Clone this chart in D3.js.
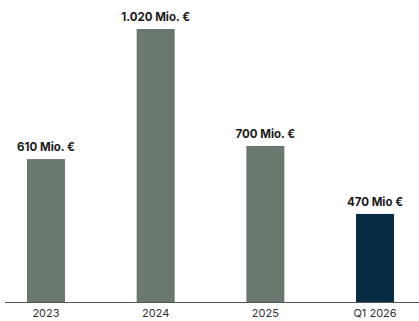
<!DOCTYPE html>
<html>
<head>
<meta charset="utf-8">
<script src="https://cdn.jsdelivr.net/npm/d3@7"></script>
<style>
  html, body { margin: 0; padding: 0; background: #fff; }
  svg { display: block; }
</style>
</head>
<body>
<svg id="chart" width="419" height="321"></svg>
<script>
// Data
const categories = ["2023", "2024", "2025", "Q1 2026"];
// bar heights as drawn in the picture (in the same units as the largest label)
const barValues = [534, 1020, 583, 329];
const valueLabels = ["610 Mio. €", "1.020 Mio. €", "700 Mio. €", "470 Mio €"];
const barColors = ["#6b786d", "#6b786d", "#6b786d", "#062b42"];

const W = 419, H = 321;
const baseline = 302;
const svg = d3.select("#chart");

const x = d3.scaleBand()
  .domain(categories)
  .range([1, 420])
  .paddingInner(0.654)
  .paddingOuter(0.237);

const y = d3.scaleLinear()
  .domain([0, 1020])
  .range([baseline, 29]);

const bw = 38;

svg.selectAll("rect.bar")
  .data(categories)
  .enter().append("rect")
  .attr("class", "bar")
  .attr("x", (d) => x(d) + x.bandwidth() / 2 - bw / 2)
  .attr("y", (d, i) => y(barValues[i]))
  .attr("width", bw)
  .attr("height", (d, i) => baseline - y(barValues[i]))
  .attr("fill", (d, i) => barColors[i]);

svg.selectAll("text.val")
  .data(categories)
  .enter().append("text")
  .attr("class", "val")
  .attr("x", (d) => x(d) + x.bandwidth() / 2)
  .attr("y", (d, i) => y(barValues[i]) - 8)
  .attr("text-anchor", "middle")
  .attr("font-family", "Inter, 'Noto Sans', sans-serif")
  .attr("font-weight", 700)
  .attr("font-size", "11.5px")
  .attr("fill", "#1a1a1a")
  .text((d, i) => valueLabels[i]);

// x axis
const axis = d3.axisBottom(x).tickSize(0).tickPadding(7);
const g = svg.append("g")
  .attr("transform", `translate(0,${baseline + 0.5})`)
  .call(axis);
g.select(".domain").remove();
g.append("line")
  .attr("x1", 5).attr("x2", 419)
  .attr("y1", 0).attr("y2", 0)
  .attr("stroke", "#555").attr("stroke-width", 1);
g.selectAll(".tick text")
  .attr("font-family", "Inter, 'Noto Sans', sans-serif")
  .attr("font-size", "11px")
  .attr("fill", "#333");
</script>
</body>
</html>
